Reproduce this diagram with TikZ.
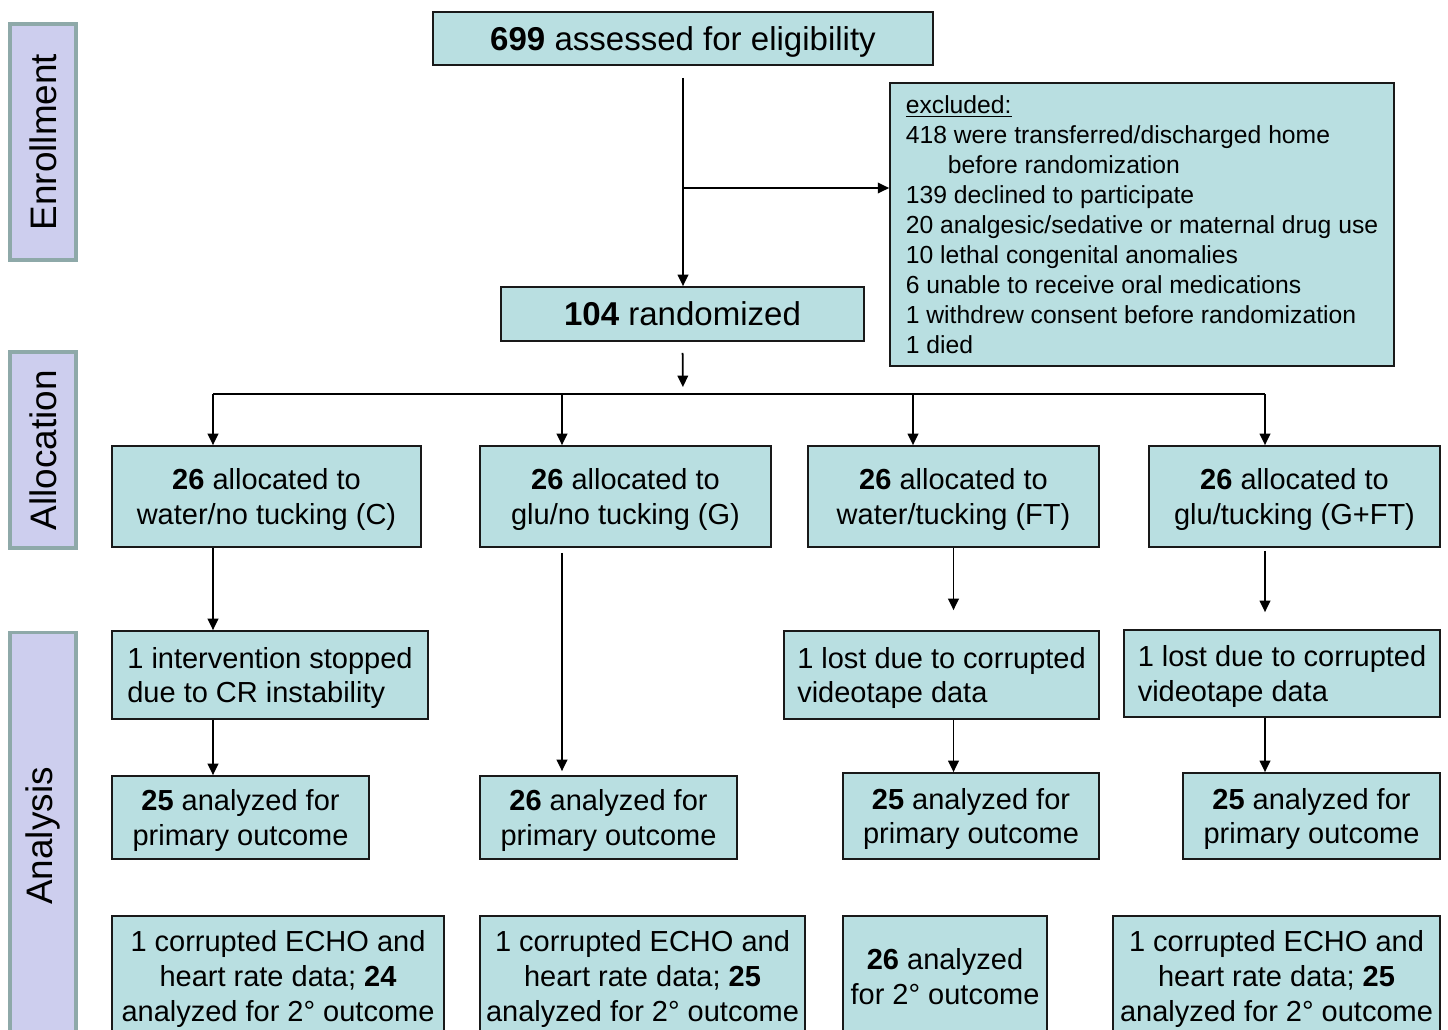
\documentclass[tikz,border=0pt]{standalone}
\usepackage{fontspec}
\setmainfont{Liberation Sans}
\usepackage{xcolor}
\usetikzlibrary{arrows.meta}
\definecolor{boxfill}{HTML}{B9DFE1}
\definecolor{phasefill}{HTML}{CDCEEE}
\definecolor{phaseline}{HTML}{8EA9A9}

\begin{document}
\begin{tikzpicture}[x=0.02cm, y=-0.02cm,
    box/.style={draw=black!90, line width=1pt, fill=boxfill, inner sep=2pt, align=center,
        font=\fontsize{16.5}{19.9}\selectfont, text depth=-0.5pt},
    topbox/.style={box, font=\fontsize{18.8}{22}\selectfont, text depth=-2.5pt},
    phase/.style={draw=phaseline, line width=1.8pt, fill=phasefill, rotate=90,
        minimum height=1.32cm, font=\fontsize{21}{25}\selectfont},
    arr/.style={-{Triangle[length=6.5pt,width=6pt]}, line width=1pt}]
    \useasboundingbox (0,0) rectangle (1448,1029);
    \clip (0,0) rectangle (1448,1029);

    \node[phase, minimum width=4.72cm] (enroll) at (43,142) {Enrollment};
    \node[phase, minimum width=3.92cm] (alloc) at (43,450) {Allocation};
    \node[phase, minimum width=8.14cm] (anal) at (43,836) {Analysis};

    \node[topbox, minimum width=10cm, minimum height=1.06cm] (elig) at (683,38.5) {\textbf{699} assessed for eligibility};
    \node[box, align=left, minimum width=10.08cm, minimum height=5.66cm, font=\fontsize{14.06}{17.07}\selectfont, text depth=-2pt] (excl) at (1142,224.5)
        {\underline{excluded:}\\
         418 were transferred/discharged home\\
         \hspace*{0.84cm}before randomization\\
         139 declined to participate\\
         20 analgesic/sedative or maternal drug use\\
         10 lethal congenital anomalies\\
         6 unable to receive oral medications\\
         1 withdrew consent before randomization\\
         1 died};
    \node[topbox, minimum width=7.26cm, minimum height=1.08cm] (rand) at (682.5,314) {\textbf{104} randomized};

    \node[box, minimum width=6.18cm, minimum height=2.02cm] (a1) at (266.5,496.5) {\textbf{26} allocated to\\water/no tucking (C)};
    \node[box, minimum width=5.82cm, minimum height=2.02cm] (a2) at (625.5,496.5) {\textbf{26} allocated to\\glu/no tucking (G)};
    \node[box, minimum width=5.82cm, minimum height=2.02cm] (a3) at (953.5,496.5) {\textbf{26} allocated to\\water/tucking (FT)};
    \node[box, minimum width=5.82cm, minimum height=2.02cm] (a4) at (1294.5,496.5) {\textbf{26} allocated to\\glu/tucking (G+FT)};

    \node[box, align=left, minimum width=6.32cm, minimum height=1.76cm] (s1) at (270,675) {1 intervention stopped\\due to CR instability};
    \node[box, align=left, minimum width=6.30cm, minimum height=1.76cm] (s3) at (941.5,675) {1 lost due to corrupted\\videotape data};
    \node[box, align=left, minimum width=6.32cm, minimum height=1.74cm] (s4) at (1282,673.5) {1 lost due to corrupted\\videotape data};

    \node[box, minimum width=5.14cm, minimum height=1.66cm] (b1) at (240.5,817.5) {\textbf{25} analyzed for\\primary outcome};
    \node[box, minimum width=5.14cm, minimum height=1.66cm] (b2) at (608.5,817.5) {\textbf{26} analyzed for\\primary outcome};
    \node[box, minimum width=5.12cm, minimum height=1.72cm] (b3) at (971,816) {\textbf{25} analyzed for\\primary outcome};
    \node[box, minimum width=5.14cm, minimum height=1.72cm] (b4) at (1311.5,816) {\textbf{25} analyzed for\\primary outcome};

    \node[box, minimum width=6.64cm, minimum height=2.4cm] (c1) at (278,976) {1 corrupted ECHO and\\heart rate data; \textbf{24}\\analyzed for 2° outcome};
    \node[box, minimum width=6.5cm, minimum height=2.4cm] (c2) at (642.5,976) {1 corrupted ECHO and\\heart rate data; \textbf{25}\\analyzed for 2° outcome};
    \node[box, minimum width=4.08cm, minimum height=2.4cm] (c3) at (945,976) {\textbf{26} analyzed\\for 2° outcome};
    \node[box, minimum width=6.54cm, minimum height=2.4cm] (c4) at (1276.5,976) {1 corrupted ECHO and\\heart rate data; \textbf{25}\\analyzed for 2° outcome};

    \coordinate (br) at (683,188);
    \coordinate (split) at (683,394);
    \draw[arr, shorten <=0.24cm] (elig.south) -- (elig.south |- rand.north);
    \draw[arr] (br) -- (br -| excl.west);
    \draw[arr, shorten <=0.22cm, shorten >=0.14cm] (rand.south) -- (split);

    \foreach \x/\n in {213/a1,562/a2,913/a3,1265/a4}
        {
          \coordinate (d\n) at (\x,394);
          \draw[arr] (d\n) -- (d\n |- \n.north);
        };
    \draw[line width=1pt] (da1) -- (da4);

    \draw[arr] (da1 |- a1.south) -- (da1 |- s1.north);
    \draw[arr, shorten <=0.1cm, shorten >=0.08cm] (da2 |- a2.south) -- (da2 |- b2.north);
    \draw[arr, shorten >=0.4cm] (a3.south) -- (a3.south |- s3.north);
    \draw[arr, shorten <=0.06cm, shorten >=0.34cm] (da4 |- a4.south) -- (da4 |- s4.north);
    \draw[arr] (da1 |- s1.south) -- (da1 |- b1.north);
    \draw[arr] (a3.south |- s3.south) -- (a3.south |- b3.north);
    \draw[arr] (da4 |- s4.south) -- (da4 |- b4.north);
\end{tikzpicture}
\end{document}
